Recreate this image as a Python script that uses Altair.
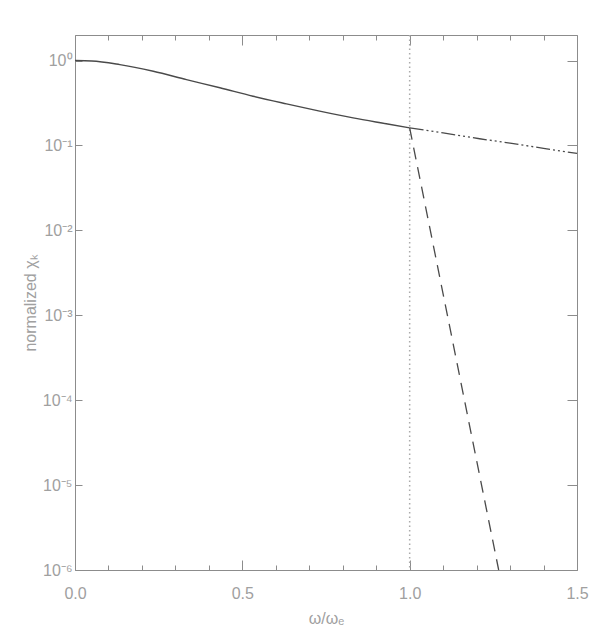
import altair as alt
import pandas as pd

# solid curve (omega < 1)
omega_solid = [0.0, 0.05, 0.134, 0.234, 0.333, 0.433, 0.532, 0.632, 0.731, 0.831, 0.930, 1.0]
chi_solid = [1.0, 0.99, 0.897, 0.748, 0.597, 0.478, 0.380, 0.309, 0.254, 0.211, 0.180, 0.161]

# dash-dot continuation (omega > 1)
omega_dashdot = [1.0, 1.1, 1.209, 1.3, 1.4, 1.5]
chi_dashdot = [0.161, 0.1406, 0.120, 0.1064, 0.0925, 0.0805]

# dashed steep decay (omega > 1)
omega_dashed = [1.0, 1.1, 1.2, 1.266]
chi_dashed = [0.161, 1.78e-3, 1.95e-5, 1.0e-6]

x_tick_values = [round(0.1 * i, 1) for i in range(16)]
y_tick_values = [1e-6, 1e-5, 1e-4, 1e-3, 1e-2, 1e-1, 1.0]
marker_omega = [1.0]

df_solid = pd.DataFrame({"omega": omega_solid, "chi": chi_solid})
df_dashdot = pd.DataFrame({"omega": omega_dashdot, "chi": chi_dashdot})
df_dashed = pd.DataFrame({"omega": omega_dashed, "chi": chi_dashed})
df_marker = pd.DataFrame({"omega": marker_omega})

AX = "#8c8c8c"
TXT = "#a0a0a0"
LINE = "#4a4a4a"
FONT = "Liberation Sans"

xscale = alt.Scale(domain=[0, 1.5], nice=False, zero=False)
yscale = alt.Scale(type="log", domain=[1e-6, 2.0], nice=False)

major_test = "abs(datum.value*2 - round(datum.value*2)) < 0.001"
tick_size_x = {"condition": {"test": major_test, "value": -10}, "value": -5}

y_label_expr = ("['10\u2070','10\u207b\u00b9','10\u207b\u00b2','10\u207b\u00b3',"
                "'10\u207b\u2074','10\u207b\u2075','10\u207b\u2076']"
                "[round(-log(datum.value)/LN10)]")

x_bottom = alt.Axis(
    orient="bottom", values=x_tick_values, grid=False,
    labelExpr=f"({major_test}) ? format(datum.value, '.1f') : ''",
    labelFlush=False,
    tickSize=tick_size_x, tickColor=AX, domainColor=AX,
    labelColor=TXT, labelFont=FONT, labelFontSize=16, labelPadding=25,
    title="\u03c9/\u03c9\u2091", titleColor=TXT, titleFont=FONT,
    titleFontSize=16, titleFontWeight="normal", titlePadding=9,
)
x_top = alt.Axis(
    orient="top", values=x_tick_values, grid=False, labels=False, title=None,
    tickSize=tick_size_x, tickColor=AX, domainColor=AX,
)
y_left = alt.Axis(
    orient="left", values=y_tick_values, grid=False,
    labelExpr=y_label_expr, labelFlush=False,
    tickSize={"expr": "-7"}, tickColor=AX, domainColor=AX,
    labelColor=TXT, labelFont=FONT, labelFontSize=16, labelPadding=10,
    title="normalized  \u03c7\u2096", titleColor=TXT, titleFont=FONT,
    titleFontSize=16, titleFontWeight="normal", titlePadding=4,
)
y_right = alt.Axis(
    orient="right", values=y_tick_values, grid=False, labels=False, title=None,
    tickSize={"expr": "-10"}, tickColor=AX, domainColor=AX,
)

solid = alt.Chart(df_solid).mark_line(
    color=LINE, strokeWidth=1.4, interpolate="monotone"
).encode(
    x=alt.X("omega:Q", scale=xscale, axis=x_bottom),
    y=alt.Y("chi:Q", scale=yscale, axis=y_left),
)

dashdot = alt.Chart(df_dashdot).mark_line(
    color=LINE, strokeWidth=1.3, strokeDash=[14, 3, 2, 3, 2, 3, 2, 3]
).encode(
    x=alt.X("omega:Q", scale=xscale, axis=x_top),
    y=alt.Y("chi:Q", scale=yscale, axis=y_right),
)

dashed = alt.Chart(df_dashed).mark_line(
    color=LINE, strokeWidth=1.3, strokeDash=[12, 8]
).encode(
    x=alt.X("omega:Q", scale=xscale, axis=None),
    y=alt.Y("chi:Q", scale=yscale, axis=None),
)

marker = alt.Chart(df_marker).mark_rule(
    color="#aaaaaa", strokeWidth=1.5, strokeDash=[1.5, 3]
).encode(
    x=alt.X("omega:Q", scale=xscale, axis=None),
)

chart = alt.layer(marker, solid, dashdot, dashed).resolve_axis(
    x="independent", y="independent"
).properties(
    width=502, height=535,
    autosize=alt.AutoSizeParams(type="none"),
    padding={"left": 67, "top": 27, "right": 15, "bottom": 64},
).configure_view(stroke=None).configure(background="white")

chart.save("out.html", embed_options={"renderer": "svg", "actions": False})
